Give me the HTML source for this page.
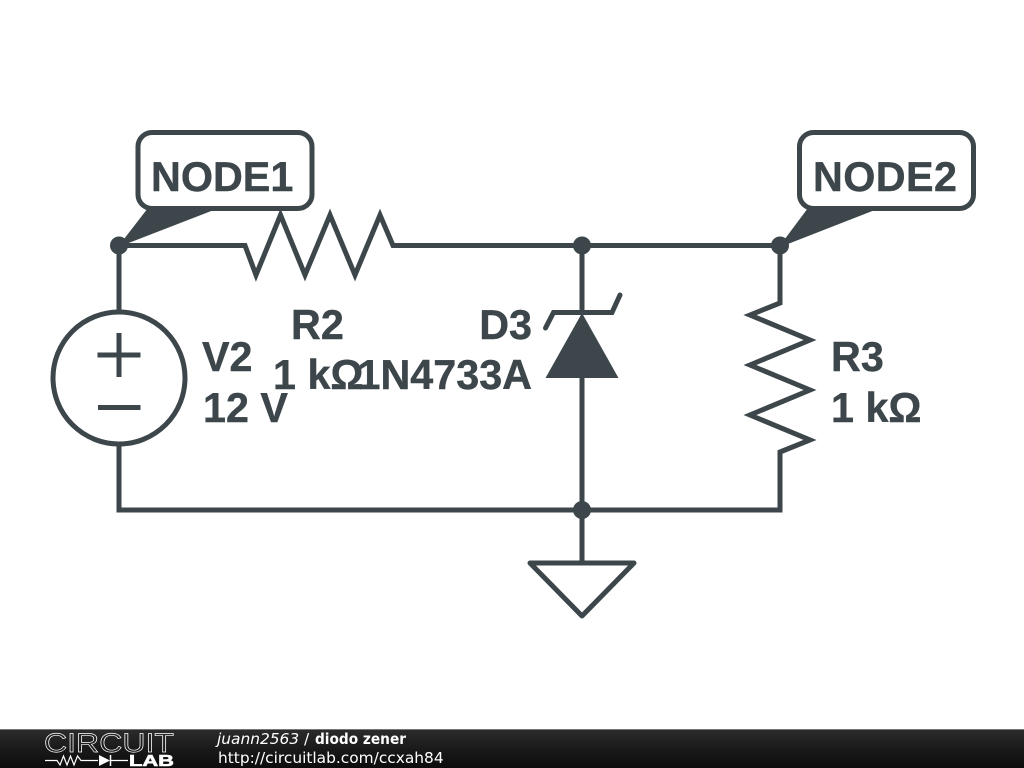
<!DOCTYPE html>
<html>
<head>
<meta charset="utf-8">
<style>
html,body{margin:0;padding:0;background:#fff;width:1024px;height:768px;overflow:hidden}
svg{display:block}
.l{font-family:"Liberation Sans",sans-serif;font-weight:700;font-size:41.3px;fill:#3c464b;stroke:#3c464b;stroke-width:0.4}
.f{font-family:"DejaVu Sans",sans-serif;font-size:15.4px;fill:#fff}
</style>
</head>
<body>
<svg width="1024" height="768" viewBox="0 0 1024 768" xmlns="http://www.w3.org/2000/svg">
<defs>
<linearGradient id="g" x1="0" y1="0" x2="0" y2="1">
<stop offset="0" stop-color="#2c2c2c"/><stop offset="0.5" stop-color="#1a1a1a"/><stop offset="1" stop-color="#0c0c0c"/>
</linearGradient>
</defs>
<rect width="1024" height="768" fill="#fff"/>
<g fill="none" stroke="#3c464b" stroke-width="5" stroke-linejoin="miter">
<path d="M119 245.500H245L256 275L280.500 215L305 275L330 215L355 275L380 215L393 245.500H780V303L750 315L810 340L750 365L810 390L750 415L810 440L780 452V510H119V444"/>
<path d="M119 245.500V312"/>
<path d="M582 245.500V313M582 378V563"/>
<circle cx="119" cy="378" r="66"/>
<path d="M97.500 355H140.500M119 333V377M98 407.500H140.500"/>
<path d="M545.500 328L553.500 312.500H612L620 295" stroke-linecap="round"/>
<path d="M530 563H634L582 616Z" stroke-linejoin="round"/>
<rect x="138" y="132.500" width="174" height="76" rx="14"/>
<rect x="799.500" y="132.500" width="174" height="76" rx="14"/>
</g>
<g fill="#3c464b">
<path d="M148 208H219L122 245.500H119Z"/>
<path d="M808 208H880L784 245.500H780Z"/>
<path d="M582 313L618.500 378H545.500Z"/>
<circle cx="119" cy="245.500" r="9"/>
<circle cx="582" cy="245.500" r="9"/>
<circle cx="780" cy="245.500" r="9"/>
<circle cx="582" cy="510" r="9"/>
</g>
<text class="l" x="151" y="191">NODE1</text>
<text class="l" x="813" y="191" textLength="144">NODE2</text>
<text class="l" x="291" y="339">R2</text>
<text class="l" x="273" y="389">1 kΩ</text>
<text class="l" x="532" y="339" text-anchor="end">D3</text>
<text class="l" x="532" y="389" text-anchor="end">1N4733A</text>
<text class="l" x="202" y="371">V2</text>
<text class="l" x="203" y="422">12 V</text>
<text class="l" x="831" y="371">R3</text>
<text class="l" x="831" y="422">1 kΩ</text>

<rect x="0" y="729" width="1024" height="39" fill="url(#g)"/>
<rect x="0" y="729" width="1024" height="1" fill="#777"/>
<text x="44" y="752" font-family="Liberation Sans,sans-serif" font-size="27" fill="none" stroke="#fff" stroke-width="0.65" textLength="130" lengthAdjust="spacingAndGlyphs">CIRCUIT</text>
<path d="M45 760.500H57L60 765L63.500 756L67 765L70.500 756L74 765L77.500 756L81 760.500H98M111 760.500H128" fill="none" stroke="#fff" stroke-width="1.200"/>
<path d="M99 755V766L110 760.500Z" fill="#fff"/>
<path d="M110.500 755V766" stroke="#fff" stroke-width="1.500"/>
<text x="129" y="766" font-family="Liberation Sans,sans-serif" font-weight="700" font-size="16" fill="#fff" stroke="#fff" stroke-width="0.6" textLength="45" lengthAdjust="spacingAndGlyphs">LAB</text>
<text class="f" x="217" y="744" font-style="italic">juann2563</text>
<text class="f" x="304" y="744">/</text>
<text class="f" x="315" y="744" font-weight="700" textLength="91" lengthAdjust="spacingAndGlyphs">diodo zener</text>
<text class="f" x="218" y="763">http://circuitlab.com/ccxah84</text>
</svg>
</body>
</html>
